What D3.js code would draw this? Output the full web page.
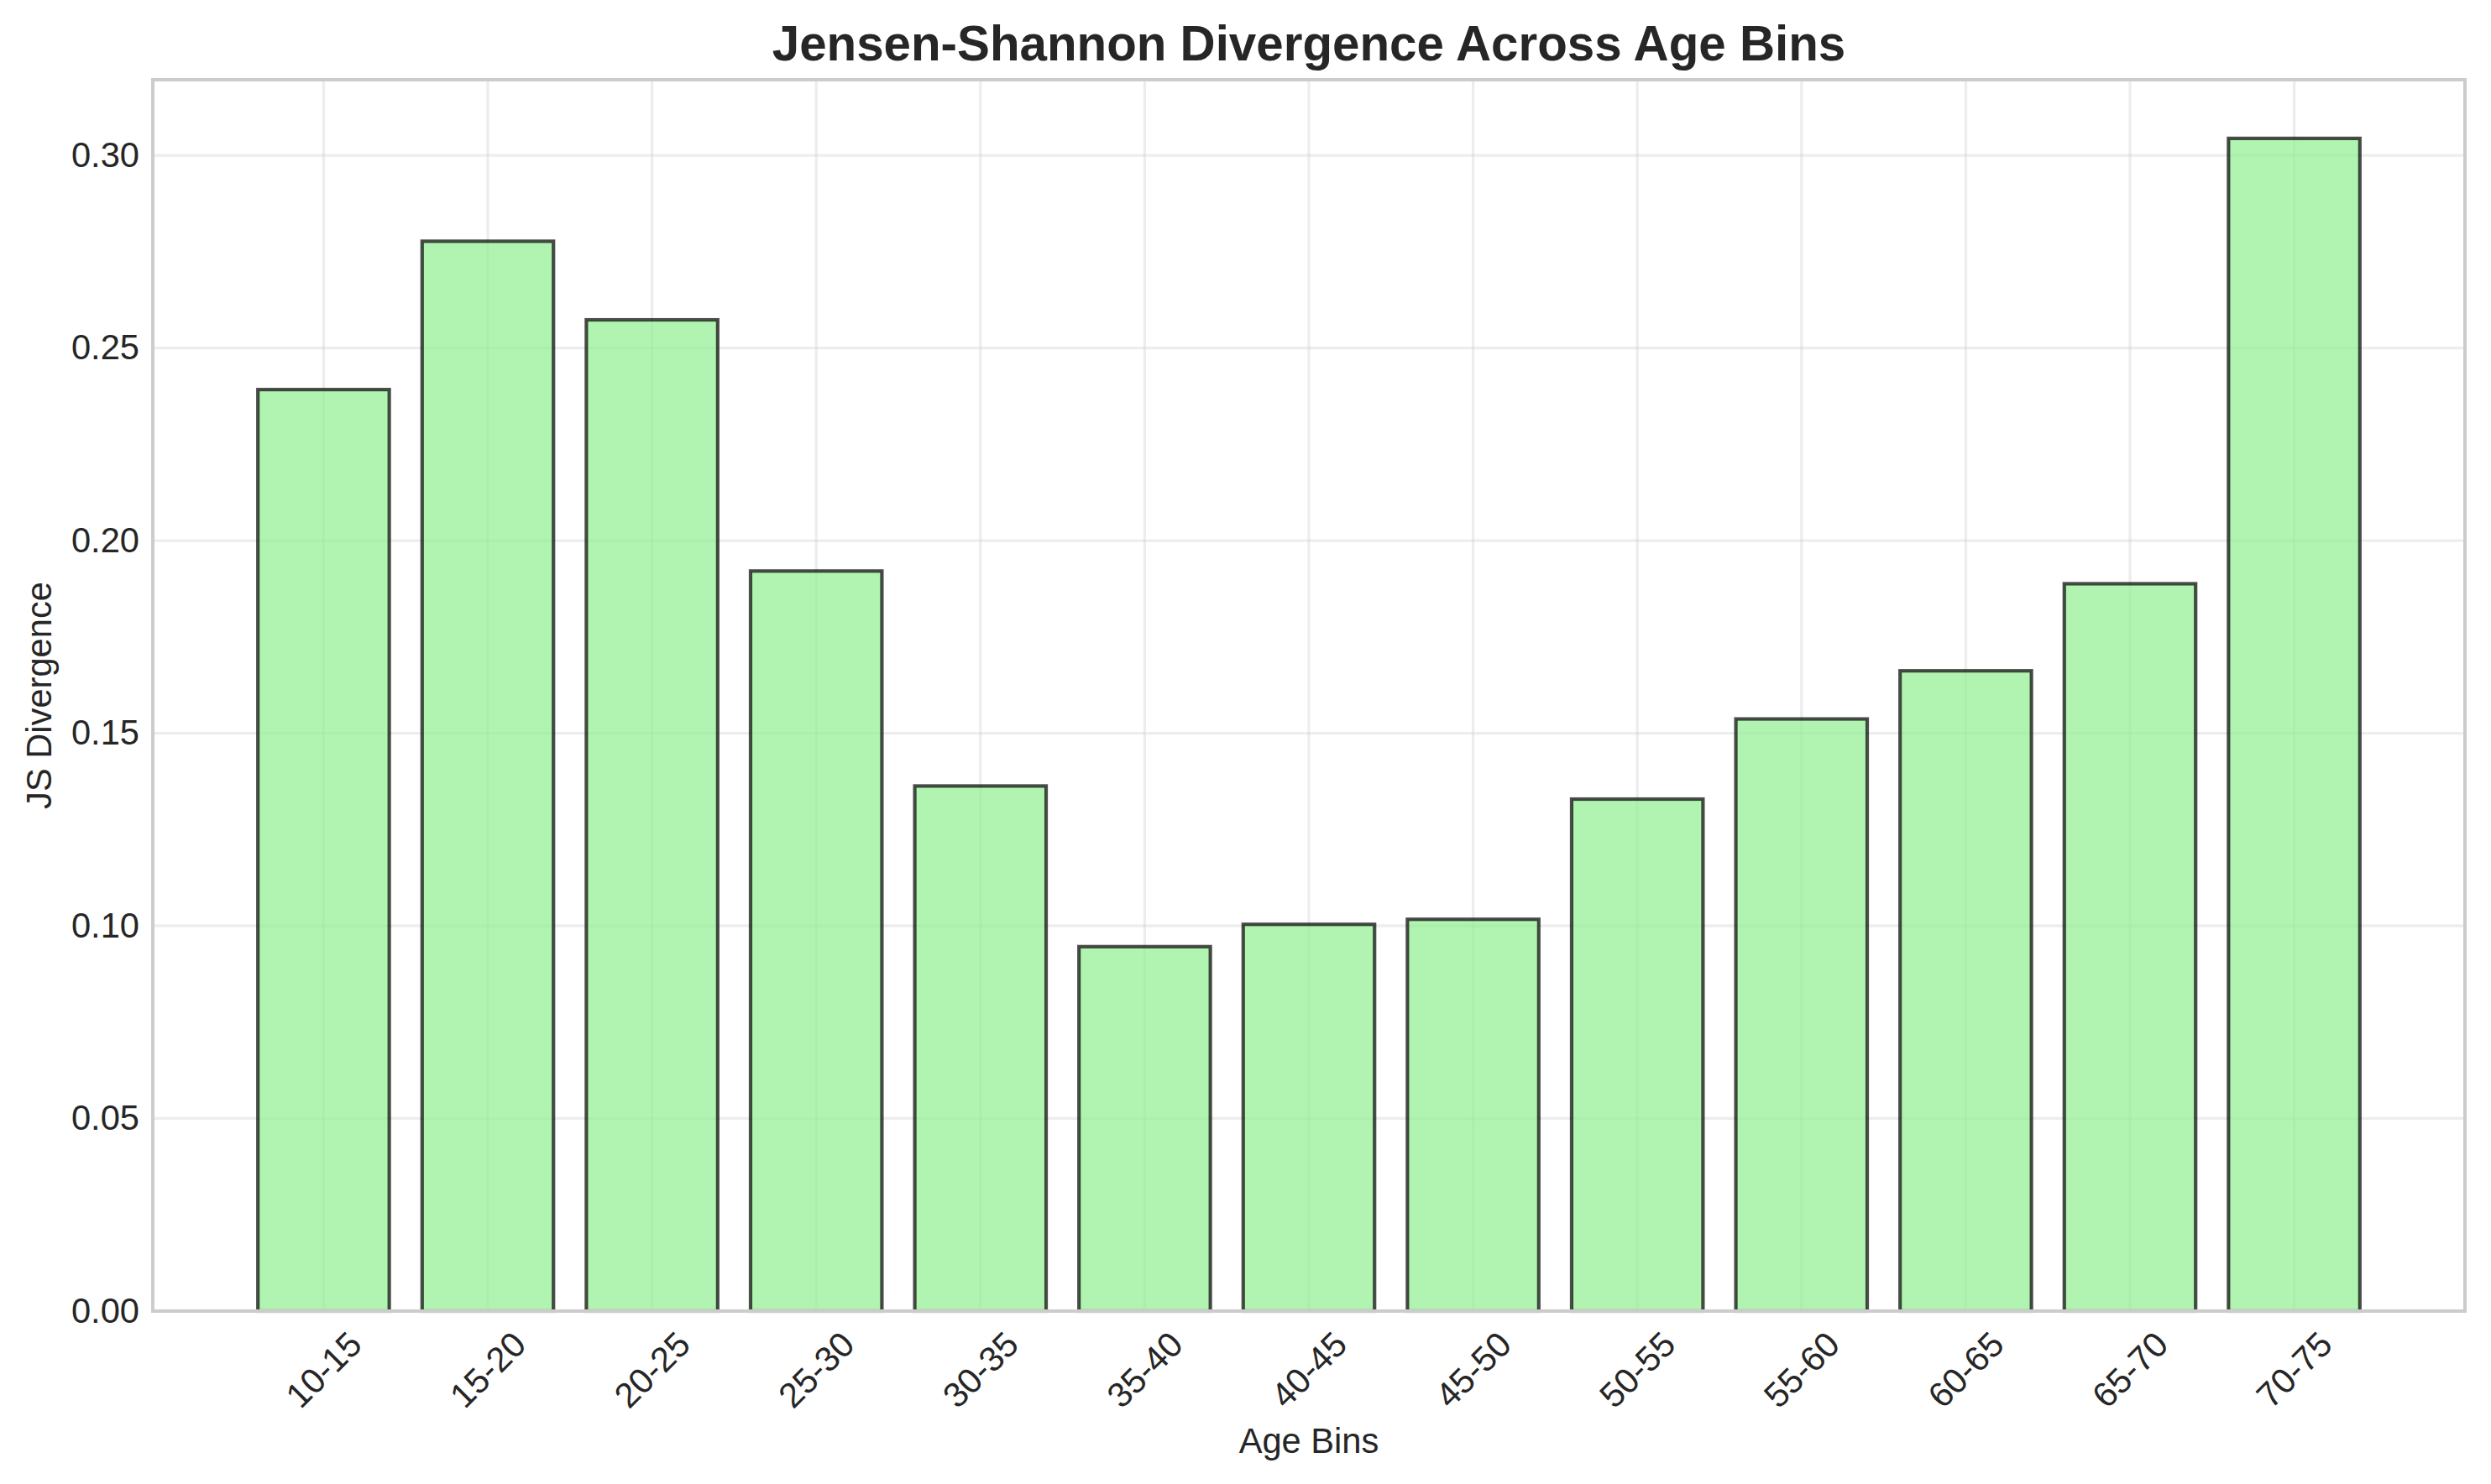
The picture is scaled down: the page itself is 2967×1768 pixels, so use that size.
<!DOCTYPE html>
<html>
<head>
<meta charset="utf-8">
<script src="https://cdn.jsdelivr.net/npm/d3@7"></script>
<style>
  html, body { margin: 0; padding: 0; background: #ffffff; }
  svg { display: block; font-family: "Liberation Sans", Arial, sans-serif; }
</style>
</head>
<body>
<script>
const categories = ["10-15","15-20","20-25","25-30","30-35","35-40","40-45","45-50","50-55","55-60","60-65","65-70","70-75"];
const values = [0.2392, 0.2777, 0.2573, 0.1921, 0.1363, 0.0946, 0.1004, 0.1017, 0.1329, 0.1537, 0.1662, 0.1888, 0.3044];
const yTicks = [0.00, 0.05, 0.10, 0.15, 0.20, 0.25, 0.30];
const titleText = "Jensen-Shannon Divergence Across Age Bins";
const xLabel = "Age Bins";
const yLabel = "JS Divergence";

const W = 2967, H = 1768;
const margin = {left: 182, right: 31, top: 95, bottom: 206};
const pw = W - margin.left - margin.right;
const ph = H - margin.top - margin.bottom;

const svg = d3.select("body").append("svg").attr("width", W).attr("height", H);

const x = d3.scaleBand().domain(categories).range([margin.left, margin.left + pw])
  .paddingInner(0.2).paddingOuter(0.64).align(0.5);
const y = d3.scaleLinear().domain([0, d3.max(values) * 1.05]).range([margin.top + ph, margin.top]);

const textColor = "#262626";
const fs = 41.67;

// grid
const grid = svg.append("g");
grid.selectAll("line.h").data(yTicks).join("line")
  .attr("x1", margin.left).attr("x2", margin.left + pw)
  .attr("y1", d => y(d)).attr("y2", d => y(d))
  .attr("stroke", "#cccccc").attr("stroke-opacity", 0.35).attr("stroke-width", 3.3);
grid.selectAll("line.v").data(categories).join("line")
  .attr("y1", margin.top).attr("y2", margin.top + ph)
  .attr("x1", d => x(d) + x.bandwidth()/2).attr("x2", d => x(d) + x.bandwidth()/2)
  .attr("stroke", "#cccccc").attr("stroke-opacity", 0.35).attr("stroke-width", 3.3);

// bars
svg.append("g").selectAll("rect").data(values).join("rect")
  .attr("x", (d, i) => x(categories[i]))
  .attr("width", x.bandwidth())
  .attr("y", d => y(d))
  .attr("height", d => y(0) - y(d))
  .attr("fill", "#90ee90").attr("fill-opacity", 0.7)
  .attr("stroke", "#000000").attr("stroke-opacity", 0.7).attr("stroke-width", 4.17);

// spines
svg.append("rect")
  .attr("x", margin.left).attr("y", margin.top).attr("width", pw).attr("height", ph)
  .attr("fill", "none").attr("stroke", "#cccccc").attr("stroke-width", 4);

// y axis tick labels via d3 axis
const yAxis = d3.axisLeft(y).tickValues(yTicks).tickFormat(d3.format(".2f")).tickSize(0).tickPadding(16);
const yg = svg.append("g").attr("transform", `translate(${margin.left},0)`).call(yAxis);
yg.select(".domain").remove();
yg.selectAll("text").attr("font-size", fs).attr("fill", textColor)
  .attr("font-family", "'Liberation Sans', Arial, sans-serif");

// x axis tick labels (rotated 45, centered)
const xAxis = d3.axisBottom(x).tickSize(0).tickPadding(0);
const xg = svg.append("g").attr("transform", `translate(0,${margin.top + ph})`).call(xAxis);
xg.select(".domain").remove();
xg.selectAll(".tick text")
  .attr("font-size", fs).attr("fill", textColor)
  .attr("font-family", "'Liberation Sans', Arial, sans-serif")
  .attr("text-anchor", "middle")
  .attr("dy", null)
  .attr("dominant-baseline", "central")
  .each(function() {
    const t = d3.select(this);
    const w = this.getComputedTextLength();
    const h = fs * 1.1;
    const ext = (w + h) / Math.SQRT2;
    const cy = 16 + ext / 2;
    t.attr("y", 0).attr("transform", `translate(0,${cy}) rotate(-45)`);
  });

// axis labels
svg.append("text").attr("x", margin.left + pw/2).attr("y", 1716)
  .attr("text-anchor", "middle").attr("dominant-baseline", "central")
  .attr("font-size", fs).attr("fill", textColor).text(xLabel);
svg.append("text").attr("transform", `translate(46,${margin.top + ph/2}) rotate(-90)`)
  .attr("text-anchor", "middle").attr("dominant-baseline", "central")
  .attr("font-size", fs).attr("fill", textColor).text(yLabel);

// title
svg.append("text").attr("x", margin.left + pw/2).attr("y", 72)
  .attr("text-anchor", "middle")
  .attr("font-size", 58.3).attr("font-weight", "bold").attr("fill", textColor).text(titleText);
</script>
</body>
</html>
